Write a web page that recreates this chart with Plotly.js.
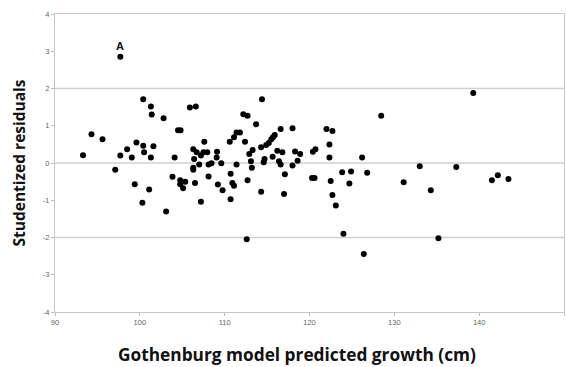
<!DOCTYPE html>
<html>
<head>
<meta charset="utf-8">
<script src="https://cdn.plot.ly/plotly-3.0.1.min.js"></script>
<style>
  html, body { margin: 0; padding: 0; background: #fff; }
  #chart { width: 566px; height: 367px; }
</style>
</head>
<body>
<div id="chart"></div>
<script>
// Predicted growth (cm) for each child
const predictedGrowth = [
  93.3, 94.3, 95.6, 97.1, 97.7, 97.7, 98.5, 99.05, 99.6, 99.4,
  100.4, 100.4, 100.5, 100.3, 101.3, 101.4, 101.6, 101.3, 101.1, 102.8,
  103.1, 104.1, 103.85, 104.5, 104.8, 104.76, 104.76, 105.1, 105.35, 105.9,
  106.6, 106.3, 106.4, 106.3, 106.3, 106.5, 107.2, 107.6, 106.7, 107.0,
  107.2, 107.5, 107.95, 108.1, 108.1, 108.45, 109.1, 109.05, 109.6, 109.2,
  109.75, 110.7, 110.9, 111.1, 110.7, 110.6, 111.1, 111.4, 111.8, 111.4,
  112.2, 112.7, 112.4, 112.6, 112.7, 112.9, 113.1, 113.2, 113.3, 113.7,
  114.4, 114.3, 114.3, 114.7, 114.6, 114.9, 115.2, 115.5, 115.7, 115.9,
  115.65, 116.2, 116.8, 116.4, 116.6, 116.6, 117.1, 117.0, 118.0, 118.0,
  118.3, 118.6, 118.9, 120.3, 120.6, 120.4, 120.7, 122.0, 122.7, 122.35,
  122.35, 122.5, 122.7, 123.1, 124.0, 123.85, 124.9, 124.7, 126.4, 126.2,
  126.8, 128.45, 131.1, 133.0, 134.3, 135.2, 137.3, 139.3, 141.5, 142.2,
  143.45
];

// Studentized residual for each child
const studentizedResidual = [
  0.21, 0.77, 0.64, -0.18, 0.20, 2.85, 0.37, 0.15, 0.55, -0.57,
  1.71, 0.46, 0.29, -1.07, 1.52, 1.30, 0.45, 0.15, -0.71, 1.20,
  -1.30, 0.15, -0.37, 0.88, 0.88, -0.46, -0.57, -0.68, -0.50, 1.49,
  1.52, 0.37, 0.11, -0.13, -0.18, -0.54, -1.04, 0.57, 0.29, -0.04,
  0.20, 0.29, 0.29, -0.36, -0.04, -0.01, 0.30, 0.15, -0.01, -0.58,
  -0.73, -0.29, -0.54, -0.61, -0.97, 0.57, 0.69, 0.82, 0.82, -0.04,
  1.31, 1.27, 0.57, -2.05, -0.46, 0.24, 0.05, -0.13, 0.35, 1.04,
  1.71, -0.77, 0.42, 0.11, 0.02, 0.48, 0.54, 0.64, 0.69, 0.75,
  0.17, 0.33, 0.29, 0.05, -0.04, 0.91, -0.30, -0.83, 0.93, -0.07,
  0.31, 0.06, 0.24, -0.40, -0.40, 0.30, 0.37, 0.91, 0.86, 0.50,
  0.15, -0.48, -0.86, -1.14, -1.90, -0.25, -0.23, -0.55, -2.44, 0.15,
  -0.26, 1.27, -0.52, -0.09, -0.73, -2.02, -0.11, 1.88, -0.46, -0.33,
  -0.43
];

// Labelled outlier
const outlierLabel = 'A';
const outlierX = 97.7;
const outlierY = 2.85;

// Reference lines on the residual scale
const referenceLevels = [-2, 0, 2];

const xTicks = [90, 100, 110, 120, 130, 140, 150];
const yTicks = [-4, -3, -2, -1, 0, 1, 2, 3, 4];

const xTitle = 'Gothenburg model predicted growth (cm)';
const yTitle = 'Studentized residuals';

const trace = {
  x: predictedGrowth,
  y: studentizedResidual,
  type: 'scatter',
  mode: 'markers',
  marker: { color: '#000', size: 6, line: { width: 0 } },
  hoverinfo: 'x+y'
};

const tickFont = { family: 'Liberation Sans, Arial, sans-serif', size: 7.5, color: '#666' };

const axisCommon = {
  tickfont: tickFont,
  ticks: 'outside',
  ticklen: 3,
  tickcolor: '#bbb',
  showgrid: false,
  zeroline: false,
  showline: true,
  linecolor: '#c8c8c8',
  linewidth: 1,
  mirror: true
};

const layout = {
  width: 566,
  height: 367,
  margin: { l: 55, r: 2, t: 14, b: 55 },
  paper_bgcolor: '#fff',
  plot_bgcolor: '#fff',
  showlegend: false,
  xaxis: Object.assign({
    range: [90, 150],
    tickvals: xTicks,
    ticktext: xTicks.map(String)
  }, axisCommon),
  yaxis: Object.assign({
    range: [-4, 4],
    tickvals: yTicks,
    ticktext: yTicks.map(String),
    title: {
      text: yTitle,
      font: { family: 'Open Sans, sans-serif', size: 15.5, color: '#111', weight: 700 },
      standoff: 13
    }
  }, axisCommon),
  shapes: referenceLevels.map(v => ({
    type: 'line', xref: 'paper', yref: 'y',
    x0: 0, x1: 1, y0: v, y1: v,
    line: { color: '#d0d0d0', width: 1.5 },
    layer: 'below'
  })),
  annotations: [
    {
      x: outlierX, y: outlierY, xref: 'x', yref: 'y',
      text: outlierLabel, showarrow: false, yshift: 11,
      font: { family: 'Liberation Sans, Arial, sans-serif', size: 11, color: '#111', weight: 700 }
    },
    {
      // x-axis title, set slightly left of the plot centre
      x: 0.475, y: 0, xref: 'paper', yref: 'paper',
      xanchor: 'center', yanchor: 'middle', yshift: -42,
      text: xTitle, showarrow: false, borderpad: 0,
      font: { family: 'Open Sans, sans-serif', size: 17.3, color: '#111', weight: 700 }
    }
  ]
};

Plotly.newPlot('chart', [trace], layout, { displayModeBar: false, staticPlot: true });
</script>
</body>
</html>
